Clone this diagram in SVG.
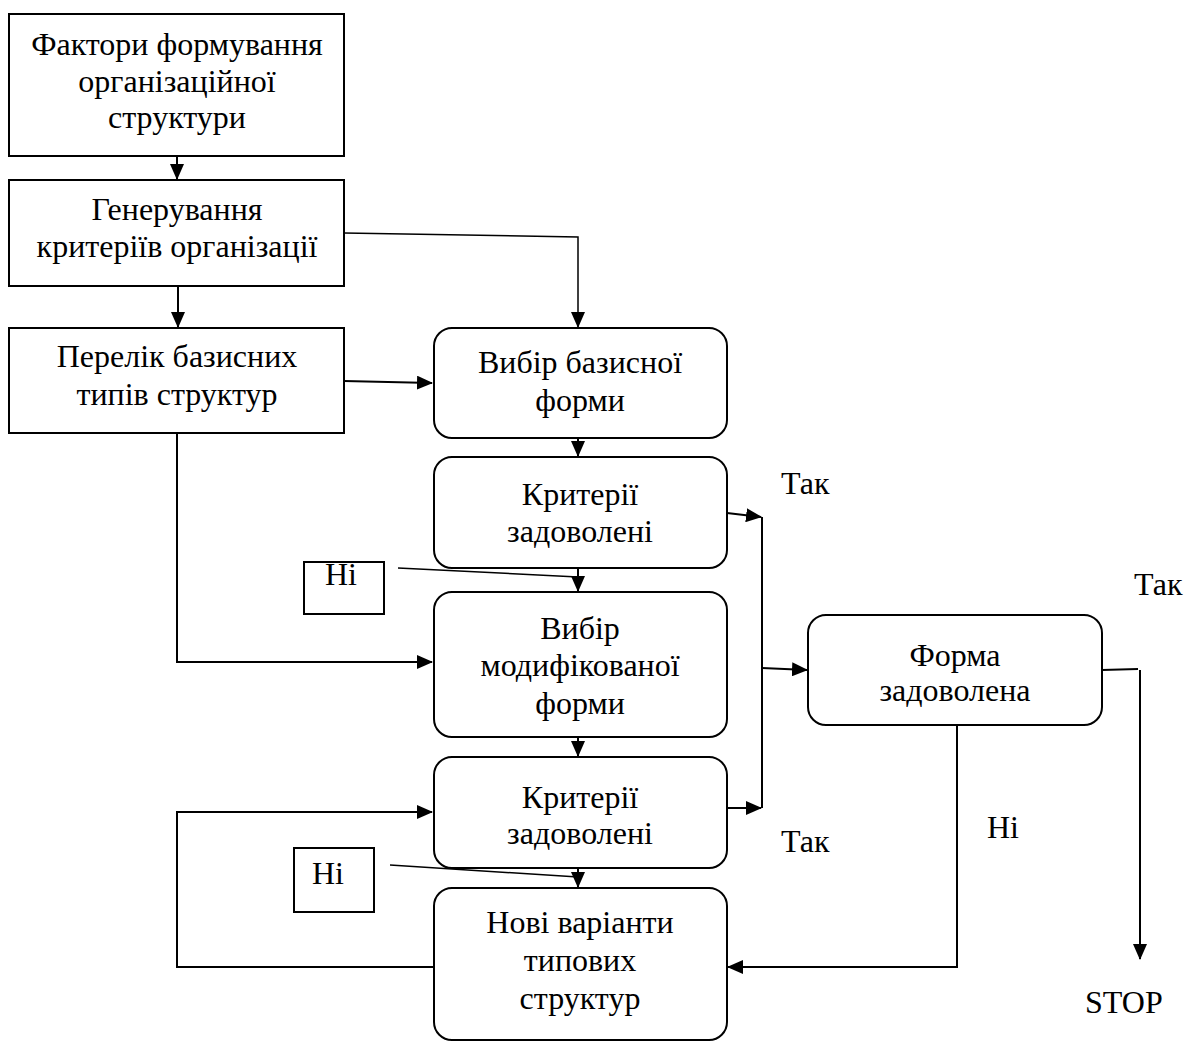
<svg xmlns="http://www.w3.org/2000/svg" width="1185" height="1043" viewBox="0 0 1185 1043">
<style>
.box{fill:#fff;stroke:#000;stroke-width:2}
.t{font-family:"Liberation Serif","Times New Roman",serif;font-size:32px;text-anchor:middle;fill:#000}
.l{font-family:"Liberation Serif","Times New Roman",serif;font-size:32px;fill:#000}
.c{fill:none;stroke:#000;stroke-width:2}
.c1{fill:none;stroke:#000;stroke-width:1.5}
</style>
<defs>
<marker id="a" markerWidth="16" markerHeight="14" refX="15" refY="7" orient="auto" markerUnits="userSpaceOnUse">
<path d="M0,0 L16,7 L0,14 Z" fill="#000"/>
</marker>
</defs>
<rect width="1185" height="1043" fill="#fff"/>
<g id="connectors">
<path class="c" d="M177,156 L177,179" marker-end="url(#a)"/>
<path class="c" d="M178,286 L178,327" marker-end="url(#a)"/>
<path class="c1" d="M344,233 L578,237 L578,327" marker-end="url(#a)"/>
<path class="c" d="M344,381 L432,383" marker-end="url(#a)"/>
<path class="c" d="M177,433 L177,662 L432,662" marker-end="url(#a)"/>
<path class="c" d="M578,438 L578,456" marker-end="url(#a)"/>
<path class="c" d="M727,513 L761,517" marker-end="url(#a)"/>
<path class="c1" d="M398,568 L578,577"/>
<path class="c" d="M578,568 L578,591" marker-end="url(#a)"/>
<path class="c" d="M578,737 L578,756" marker-end="url(#a)"/>
<path class="c" d="M727,808 L761,808" marker-end="url(#a)"/>
<path class="c" d="M762,517 L762,808"/>
<path class="c" d="M762,668 L807,670" marker-end="url(#a)"/>
<path class="c" d="M433,967 L177,967 L177,812 L432,812" marker-end="url(#a)"/>
<path class="c1" d="M390,865 L578,877"/>
<path class="c" d="M578,868 L578,887" marker-end="url(#a)"/>
<path class="c" d="M957,725 L957,967 L728,967" marker-end="url(#a)"/>
<path class="c" d="M1102,670 L1138,669"/>
<path class="c" d="M1140,670 L1140,959" marker-end="url(#a)"/>
</g>
<g id="n1"><rect class="box" x="9" y="14" width="335" height="142"/>
<text class="t" x="177" y="55">Фактори формування</text>
<text class="t" x="177" y="92">організаційної</text>
<text class="t" x="177" y="128">структури</text></g>
<g id="n2"><rect class="box" x="9" y="180" width="335" height="106"/>
<text class="t" x="177" y="220">Генерування</text>
<text class="t" x="177" y="257">критеріїв організації</text></g>
<g id="n3"><rect class="box" x="9" y="328" width="335" height="105"/>
<text class="t" x="177" y="367">Перелік базисних</text>
<text class="t" x="177" y="405">типів структур</text></g>
<g id="n4"><rect class="box" x="434" y="328" width="293" height="110" rx="18"/>
<text class="t" x="580" y="373">Вибір базисної</text>
<text class="t" x="580" y="411">форми</text></g>
<g id="n5"><rect class="box" x="434" y="457" width="293" height="111" rx="18"/>
<text class="t" x="580" y="505">Критерії</text>
<text class="t" x="580" y="542">задоволені</text></g>
<g id="n6"><rect class="box" x="434" y="592" width="293" height="145" rx="18"/>
<text class="t" x="580" y="639">Вибір</text>
<text class="t" x="580" y="676">модифікованої</text>
<text class="t" x="580" y="714">форми</text></g>
<g id="n7"><rect class="box" x="434" y="757" width="293" height="111" rx="18"/>
<text class="t" x="580" y="808">Критерії</text>
<text class="t" x="580" y="844">задоволені</text></g>
<g id="n8"><rect class="box" x="434" y="888" width="293" height="152" rx="18"/>
<text class="t" x="580" y="933">Нові варіанти</text>
<text class="t" x="580" y="971">типових</text>
<text class="t" x="580" y="1009">структур</text></g>
<g id="n9"><rect class="box" x="808" y="615" width="294" height="110" rx="18"/>
<text class="t" x="955" y="666">Форма</text>
<text class="t" x="955" y="701">задоволена</text></g>
<g id="no1"><rect class="box" x="304" y="562" width="80" height="52" stroke-width="1.5"/>
<text class="t" x="341" y="585">Ні</text></g>
<g id="no2"><rect class="box" x="294" y="848" width="80" height="64" stroke-width="1.5"/>
<text class="t" x="328" y="884">Ні</text></g>
<g id="labels">
<text class="l" x="781" y="494">Так</text>
<text class="l" x="1134" y="595">Так</text>
<text class="l" x="781" y="852">Так</text>
<text class="l" x="987" y="838">Ні</text>
<text class="l" x="1085" y="1013">STOP</text>
</g>
</svg>
